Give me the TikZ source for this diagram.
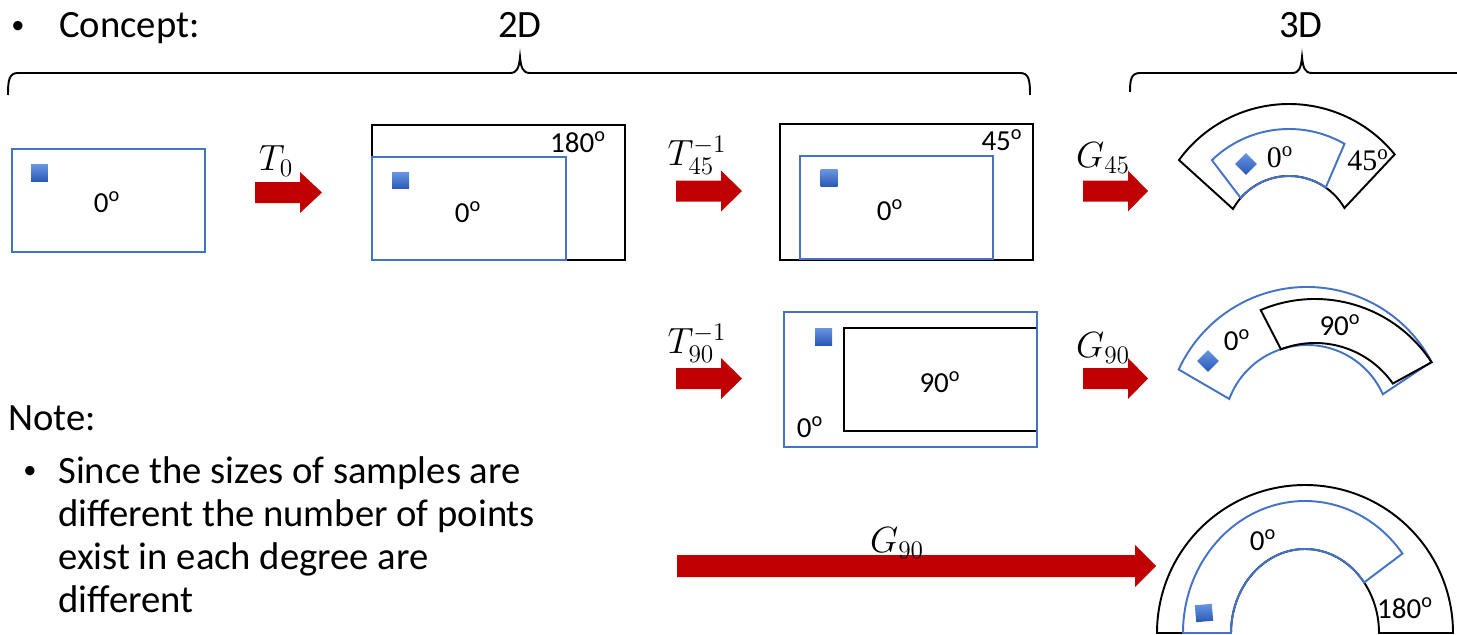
\documentclass[tikz,border=0pt]{standalone}
\usepackage{fontspec}
\setmainfont{Carlito}
\newfontfamily\serifc{Liberation Serif}
\definecolor{oblue}{RGB}{68,114,196}
\definecolor{ored}{RGB}{192,0,0}
\definecolor{sqL}{RGB}{105,150,225}
\definecolor{sqD}{RGB}{40,88,182}
\tikzset{
  bluebox/.style={draw=oblue, line width=1.1pt},
  blackbox/.style={draw=black, line width=1.1pt},
  deg/.style={font=\fontsize{16.5}{20}\selectfont, inner sep=0pt},
  big/.style={font=\fontsize{22}{26}\selectfont, inner sep=0pt},
  bul/.style={font=\fontsize{15}{18}\selectfont, inner sep=0pt},
  mlab/.style={font=\fontsize{20}{24}\selectfont, inner sep=0pt},
  sq/.style={top color=sqL, bottom color=sqD, draw=none, inner sep=0pt, outer sep=0pt, minimum size=0.34cm},
  dsq/.style={sq, minimum size=0.31cm, rotate=45},
  bracel/.style={draw=black, line width=1.1pt},
  redarrow/.style={fill=ored, draw=none}
}
\begin{document}
\begin{tikzpicture}[x=0.02cm,y=0.02cm]
\useasboundingbox (0,0) rectangle (1457,-635);

% ---------- header ----------
\node[bul] (b1) at (18,-27) {•};
\node[big, anchor=base west] (concept) at (59,-38) {Concept:};
\node[big, anchor=base] (t2d) at (520,-38) {2D};
\node[big, anchor=base] (t3d) at (1301,-38) {3D};

\draw[bracel] (8,-95) .. controls (8,-80) and (9,-73) .. (18,-73) -- (510,-73)
  .. controls (517,-73) and (519,-68) .. (520,-57)
  .. controls (521,-68) and (523,-73) .. (530,-73) -- (1020,-73)
  .. controls (1029,-73) and (1030,-80) .. (1030,-95);
\draw[bracel] (1130,-92) .. controls (1130,-80) and (1131,-73) .. (1140,-73) -- (1292,-73)
  .. controls (1299,-73) and (1301,-68) .. (1302,-57)
  .. controls (1303,-68) and (1305,-73) .. (1312,-73) -- (1457,-73);

% ---------- row 1 ----------
\draw[bluebox] (12,-149) rectangle (205,-252);
\node[sq] (sqA) at (39.5,-173) {};
\node[deg] (dA) at (107,-202) {0\textsuperscript{o}};

\fill[redarrow] (255,-182) -- (300,-182) -- (300,-172) -- (322,-192.5) -- (300,-213) -- (300,-203) -- (255,-203) -- cycle;
\node[mlab] (T0) at (276,-161) {$T_0$};

\draw[blackbox] (372,-125) rectangle (625,-260);
\draw[bluebox] (372,-157) rectangle (566,-260);
\node[sq] (sqB) at (400.5,-180.5) {};
\node[deg] (dB0) at (468,-212) {0\textsuperscript{o}};
\node[deg] (dB180) at (578,-142) {180\textsuperscript{o}};

\fill[redarrow] (676,-180.5) -- (721,-180.5) -- (721,-170.5) -- (742,-191) -- (721,-211.5) -- (721,-201.5) -- (676,-201.5) -- cycle;
\node[mlab] (T45) at (697,-155) {$T_{45}^{-1}$};

\draw[blackbox] (780,-124) rectangle (1033,-260);
\draw[bluebox] (800,-156) rectangle (993,-259);
\node[sq] (sqC) at (829,-178) {};
\node[deg] (dC0) at (890,-210) {0\textsuperscript{o}};
\node[deg] (dC45) at (1002,-140) {45\textsuperscript{o}};

\fill[redarrow] (1083,-180.5) -- (1128,-180.5) -- (1128,-170.5) -- (1148,-191) -- (1128,-211.5) -- (1128,-201.5) -- (1083,-201.5) -- cycle;
\node[mlab] (G45) at (1103,-158) {$G_{45}$};

% sector 1 (center 1289,-240)
\draw[blackbox] ([shift={(39:136)}]1289,-240) arc[start angle=39, end angle=144, radius=136]
  -- ([shift={(151:64)}]1289,-240) arc[start angle=151, end angle=30, radius=64] -- cycle;
\draw[bluebox] ([shift={(60:111)}]1289,-240) arc[start angle=60, end angle=134, radius=111]
  -- ([shift={(139:64)}]1289,-240) arc[start angle=139, end angle=55, radius=64] -- cycle;
\node[dsq] (sqS1) at (1246,-164) {};
\node[deg, font=\serifc\fontsize{17}{20}\selectfont] (dS1a) at (1280,-157) {0\textsuperscript{o}};
\node[deg, font=\serifc\fontsize{17}{20}\selectfont] (dS1b) at (1368,-160) {45\textsuperscript{o}};

% ---------- row 2 ----------
\fill[redarrow] (676,-368) -- (721,-368) -- (721,-358) -- (742,-378.5) -- (721,-399) -- (721,-389) -- (676,-389) -- cycle;
\node[mlab] (T90) at (697,-343) {$T_{90}^{-1}$};

\draw[blackbox] (844,-328) rectangle (1037,-431);
\draw[bluebox] (784,-312) rectangle (1037,-447);
\node[sq] (sqD) at (823.5,-336.5) {};
\node[deg] (dD90) at (940,-382) {90\textsuperscript{o}};
\node[deg] (dD0) at (810,-427) {0\textsuperscript{o}};

\fill[redarrow] (1083,-368) -- (1128,-368) -- (1128,-358) -- (1148,-378.5) -- (1128,-399) -- (1128,-389) -- (1083,-389) -- cycle;
\node[mlab] (G90a) at (1103,-348) {$G_{90}$};

% sector 2
\draw[bluebox] ([shift={(28:141)}]1307,-428) arc[start angle=28, end angle=155.5, radius=141]
  -- ([shift={(159.5:83)}]1307,-428) arc[start angle=159.5, end angle=24, radius=83] -- cycle;
\draw[blackbox] ([shift={(33:139)}]1315,-438) arc[start angle=33, end angle=113, radius=139]
  -- ([shift={(111:95)}]1315,-438) arc[start angle=111, end angle=35, radius=95] -- cycle;
\node[dsq] (sqS2) at (1208,-361) {};
\node[deg] (dS2a) at (1237,-340) {0\textsuperscript{o}};
\node[deg] (dS2b) at (1340,-325) {90\textsuperscript{o}};

% ---------- row 3 ----------
\fill[redarrow] (677,-555) -- (1135,-555) -- (1135,-545) -- (1156,-566) -- (1135,-587) -- (1135,-577) -- (677,-577) -- cycle;
\node[mlab] (G90b) at (897,-543) {$G_{90}$};

\draw[blackbox] (1157,-633) arc[start angle=180, end angle=0, x radius=148, y radius=148]
  -- (1379,-633) arc[start angle=0, end angle=180, x radius=74, y radius=84] -- cycle;
\draw[bluebox] (1183,-633) arc[start angle=180, end angle=37, x radius=122, y radius=132]
  -- ([shift={(1305,-633)}]37:74 and 84) arc[start angle=37, end angle=180, x radius=74, y radius=84] -- cycle;
\node[sq, rotate=5] (sqS3) at (1204,-613) {};
\node[deg] (dS3a) at (1263,-540) {0\textsuperscript{o}};
\node[deg] (dS3b) at (1405,-608) {180\textsuperscript{o}};

% ---------- note ----------
\node[big, anchor=base west] (note) at (8,-430) {Note:};
\node[bul] (b2) at (30,-472) {•};
\node[big, anchor=base west] (l1) at (58,-483) {Since the sizes of samples are};
\node[big, anchor=base west] (l2) at (58,-526) {different the number of points};
\node[big, anchor=base west] (l3) at (58,-569) {exist in each degree are};
\node[big, anchor=base west] (l4) at (58,-612) {different};
\end{tikzpicture}
\end{document}
